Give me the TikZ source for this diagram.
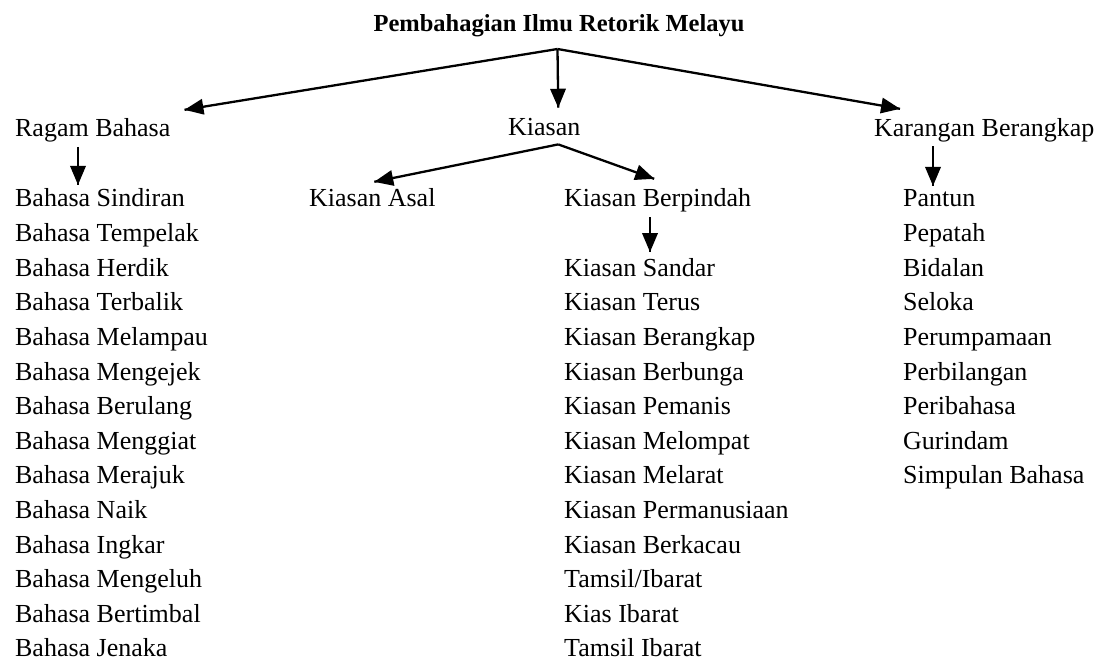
\documentclass[tikz,border=0pt]{standalone}
\usepackage{fontspec}
\setmainfont{Liberation Serif}
\usetikzlibrary{arrows}
\usetikzlibrary{decorations.markings}
\tikzset{->/.style = {decoration={markings,
                                  mark=at position 1 with {\arrow[scale=1.35]{triangle 45}}},
                      postaction={decorate}}}
\tikzset{entry/.style = {anchor=base west, inner sep=0, font=\fontsize{26}{30}\selectfont}}
\tikzset{heading/.style = {anchor=base, inner sep=0, font=\fontsize{24.5}{28}\selectfont\bfseries}}

\begin{document}
\begin{tikzpicture}[x=1pt, y=-1pt, line width=2.3pt]
      \useasboundingbox (0,0) rectangle (1097,668);

      \node [heading] (title) at (559, 32) {Pembahagian Ilmu Retorik Melayu};
      \coordinate (fork) at (557.5, 49);

      \node [entry] (ragam) at (14, 137) {Ragam Bahasa};
      \node [entry] (kiasan) at (507, 136) {Kiasan};
      \node [entry] (karangan) at (873, 137) {Karangan Berangkap};

      \node [entry] (asal) at (308, 207) {Kiasan Asal};
      \node [entry] (pindah) at (563, 207) {Kiasan Berpindah};

      % ragam bahasa
      \node [entry] (b1) at (14, 207) {Bahasa Sindiran};
      \node [entry] (b2) at (14, 241.6) {Bahasa Tempelak};
      \node [entry] (b3) at (14, 276.2) {Bahasa Herdik};
      \node [entry] (b4) at (14, 310.8) {Bahasa Terbalik};
      \node [entry] (b5) at (14, 345.4) {Bahasa Melampau};
      \node [entry] (b6) at (14, 380) {Bahasa Mengejek};
      \node [entry] (b7) at (14, 414.6) {Bahasa Berulang};
      \node [entry] (b8) at (14, 449.2) {Bahasa Menggiat};
      \node [entry] (b9) at (14, 483.8) {Bahasa Merajuk};
      \node [entry] (b10) at (14, 518.4) {Bahasa Naik};
      \node [entry] (b11) at (14, 553) {Bahasa Ingkar};
      \node [entry] (b12) at (14, 587.6) {Bahasa Mengeluh};
      \node [entry] (b13) at (14, 622.2) {Bahasa Bertimbal};
      \node [entry] (b14) at (14, 656.8) {Bahasa Jenaka};

      % kiasan berpindah
      \node [entry] (k1) at (563, 276.2) {Kiasan Sandar};
      \node [entry] (k2) at (563, 310.8) {Kiasan Terus};
      \node [entry] (k3) at (563, 345.4) {Kiasan Berangkap};
      \node [entry] (k4) at (563, 380) {Kiasan Berbunga};
      \node [entry] (k5) at (563, 414.6) {Kiasan Pemanis};
      \node [entry] (k6) at (563, 449.2) {Kiasan Melompat};
      \node [entry] (k7) at (563, 483.8) {Kiasan Melarat};
      \node [entry] (k8) at (563, 518.4) {Kiasan Permanusiaan};
      \node [entry] (k9) at (563, 553) {Kiasan Berkacau};
      \node [entry] (k10) at (563, 587.6) {Tamsil/Ibarat};
      \node [entry] (k11) at (563, 622.2) {Kias Ibarat};
      \node [entry] (k12) at (563, 656.8) {Tamsil Ibarat};

      % karangan berangkap
      \node [entry] (p1) at (902, 207) {Pantun};
      \node [entry] (p2) at (902, 241.6) {Pepatah};
      \node [entry] (p3) at (902, 276.2) {Bidalan};
      \node [entry] (p4) at (902, 310.8) {Seloka};
      \node [entry] (p5) at (902, 345.4) {Perumpamaan};
      \node [entry] (p6) at (902, 380) {Perbilangan};
      \node [entry] (p7) at (902, 414.6) {Peribahasa};
      \node [entry] (p8) at (902, 449.2) {Gurindam};
      \node [entry] (p9) at (902, 483.8) {Simpulan Bahasa};

      \draw [->] (fork) -- ([xshift=13pt, yshift=8pt]ragam.north east);
      \draw [->] (fork) -- ([xshift=14pt, yshift=10pt]kiasan.north);
      \draw [->] (fork) -- ([xshift=27pt, yshift=9pt]karangan.north west);

      \draw [->] ([xshift=64pt, yshift=-3pt]ragam.south west) -- ([xshift=64pt, yshift=3pt]b1.north west);

      \coordinate (kfork) at ([xshift=14pt, yshift=-7pt]kiasan.south);
      \draw [->] (kfork) -- ([xshift=2pt, yshift=6pt]asal.north);
      \draw [->] (kfork) -- ([xshift=-3.5pt, yshift=9pt]pindah.north);
      \draw [->] ([xshift=87pt, yshift=-3.5pt]pindah.south west) -- ([xshift=87pt, yshift=5pt]k1.north west);

      \draw [->] ([xshift=60pt, yshift=-2.5pt]karangan.south west) -- ([xshift=31pt, yshift=3pt]p1.north west);
    \end{tikzpicture}
\end{document}
